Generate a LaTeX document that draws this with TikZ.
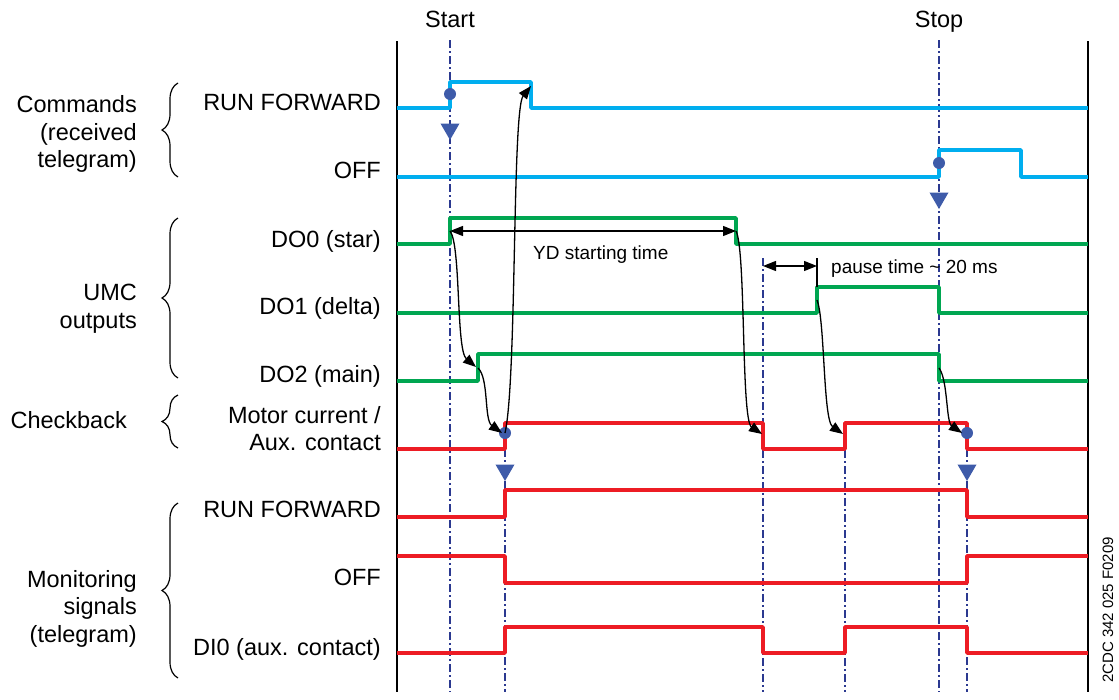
\documentclass[tikz,border=0pt]{standalone}
\usepackage{fontspec}
\setmainfont{Liberation Sans}
\usetikzlibrary{arrows.meta,decorations.pathreplacing,shapes.geometric}
\definecolor{sigblue}{HTML}{00AEEF}
\definecolor{siggreen}{HTML}{00A651}
\definecolor{sigred}{HTML}{ED1C24}
\definecolor{navy}{HTML}{2B3990}
\definecolor{dotblue}{HTML}{3E5BA9}
\begin{document}
\begin{tikzpicture}[x=1pt,y=-1pt,
  sigB/.style={draw=sigblue,line width=3.8pt,line join=round},
  sigG/.style={draw=siggreen,line width=3.8pt,line join=round},
  sigR/.style={draw=sigred,line width=3.8pt,line join=round},
  vline/.style={draw=navy,line width=1.3pt,dash pattern=on 8pt off 3pt on 2pt off 3pt},
  frame/.style={draw=black,line width=1.5pt},
  arr/.style={draw=black,line width=1.3pt,-{Triangle[length=13pt,width=10pt]}},
  darr/.style={draw=black,line width=1.3pt,{Triangle[length=13pt,width=10pt]}-{Triangle[length=13pt,width=10pt]}},
  dotm/.style={circle,fill=dotblue,inner sep=0pt,minimum size=12pt},
  tri/.style={regular polygon,regular polygon sides=3,shape border rotate=180,fill=dotblue,inner sep=0pt,minimum size=22pt},
  brc/.style={draw=black,line width=1.2pt,decorate,decoration={brace,amplitude=16pt}},
  lbl/.style={anchor=base east,inner sep=0pt,font=\fontsize{23.5}{28}\selectfont},
  grp/.style={anchor=base east,inner sep=0pt,font=\fontsize{23.5}{28}\selectfont},
  ann/.style={anchor=base west,inner sep=0pt,font=\fontsize{19}{23}\selectfont}
]
\useasboundingbox (0,0) rectangle (1119,699);

% frame lines
\draw[frame] (397,41) -- (397,692);
\draw[frame] (1088,41) -- (1088,692);

% vertical dash-dot marker lines
\draw[vline] (450,40) -- (450,692);
\draw[vline] (939,40) -- (939,692);
\draw[vline] (505,433) -- (505,692);
\draw[vline] (967,433) -- (967,692);
\draw[vline] (763,258) -- (763,692);
\draw[vline] (845,450) -- (845,692);

% Start / Stop
\node[anchor=base,inner sep=0pt,font=\fontsize{23.5}{28}\selectfont] (start) at (450,27) {Start};
\node[anchor=base,inner sep=0pt,font=\fontsize{23.5}{28}\selectfont] (stop) at (939,27) {Stop};

% commands (blue)
\draw[sigB] (397,108) -- (450,108) -- (450,82) -- (531,82) -- (531,108) -- (1088,108);
\draw[sigB] (397,177) -- (939,177) -- (939,150) -- (1021,150) -- (1021,177) -- (1088,177);

% UMC outputs (green)
\draw[sigG] (397,244) -- (450,244) -- (450,218) -- (736,218) -- (736,244) -- (1088,244);
\draw[sigG] (397,313) -- (817,313) -- (817,287) -- (939,287) -- (939,313) -- (1088,313);
\draw[sigG] (397,381) -- (478,381) -- (478,354) -- (939,354) -- (939,381) -- (1088,381);

% checkback (red)
\draw[sigR] (397,449) -- (505,449) -- (505,423) -- (763,423) -- (763,449) -- (845,449) -- (845,423) -- (967,423) -- (967,449) -- (1088,449);

% monitoring (red)
\draw[sigR] (397,517) -- (505,517) -- (505,490) -- (967,490) -- (967,517) -- (1088,517);
\draw[sigR] (397,556) -- (505,556) -- (505,583) -- (967,583) -- (967,556) -- (1088,556);
\draw[sigR] (397,653) -- (505,653) -- (505,627) -- (763,627) -- (763,653) -- (845,653) -- (845,627) -- (967,627) -- (967,653) -- (1088,653);

% markers
\node[dotm] (d1) at (450,94) {};
\node[dotm] (d2) at (939,163) {};
\node[dotm] (d3) at (505,433) {};
\node[dotm] (d4) at (967,433) {};
\node[tri] (t1) at (450,129) {};
\node[tri] (t2) at (939,198) {};
\node[tri] (t3) at (505,470) {};
\node[tri] (t4) at (967,470) {};

% coordinates for arrows
\coordinate (ydL) at (450,231);
\coordinate (ydR) at (736,231);
\coordinate (psL) at (763,266);
\coordinate (psR) at (817,266);
\coordinate (psTop) at (817,258);
\coordinate (psBot) at (817,287);
\coordinate (do2r) at (476,367);
\coordinate (do2s) at (478,368);
\coordinate (mcr) at (502,433);
\coordinate (rff) at (531,86);
\coordinate (mcf) at (762,434);
\coordinate (do1r) at (817,300);
\coordinate (mcr2) at (843,434);
\coordinate (do2f) at (939,368);
\coordinate (mcf2) at (962,433);

% timing annotations
\draw[darr] (ydL) -- (ydR);
\node[ann] (ydt) at (533,259) {YD starting time};
\draw[darr] (psL) -- (psR);
\draw[black,line width=1.3pt] (psTop) -- (psBot);
\node[ann] (pst) at (831,273) {pause time {\char"7E} 20 ms};

% causal curves
\draw[arr] (ydL) .. controls (461,245) and (456,350) .. (do2r);
\draw[arr] (do2s) .. controls (489,378) and (484,420) .. (mcr);
\draw[arr] (d3.center) .. controls (517,380) and (512,110) .. (rff);
\draw[arr] (ydR) .. controls (746,250) and (741,420) .. (mcf);
\draw[arr] (do1r) .. controls (825,320) and (823,420) .. (mcr2);
\draw[arr] (do2f) .. controls (948,380) and (946,422) .. (mcf2);

% signal labels
\node[lbl] (l1) at (381,110) {RUN FORWARD};
\node[lbl] (l2) at (381,178) {OFF};
\node[lbl] (l3) at (381,247) {DO0 (star)};
\node[lbl] (l4) at (381,314) {DO1 (delta)};
\node[lbl] (l5) at (381,382) {DO2 (main)};
\node[lbl] (l6a) at (381,423) {Motor current /};
\node[lbl] (l6b) at (381,450) {Aux. contact};
\node[lbl] (l7) at (381,517) {RUN FORWARD};
\node[lbl] (l8) at (381,585) {OFF};
\node[lbl] (l9) at (381,655) {DI0 (aux. contact)};

% braces
\draw[brc] (178,177) -- (178,83);
\draw[brc] (178,378) -- (178,218);
\draw[brc] (178,448) -- (178,395);
\draw[brc] (178,678) -- (178,503);

% group labels
\node[grp] (g1a) at (137,112) {Commands};
\node[grp] (g1b) at (137,140) {(received};
\node[grp] (g1c) at (137,167) {telegram)};
\node[grp] (g2a) at (137,300) {UMC};
\node[grp] (g2b) at (137,328) {outputs};
\node[grp] (g3) at (127,428) {Checkback};
\node[grp] (g4a) at (137,587) {Monitoring};
\node[grp] (g4b) at (137,614) {signals};
\node[grp] (g4c) at (137,642) {(telegram)};

% drawing number
\node[rotate=90,inner sep=0pt,font=\fontsize{15}{18}\selectfont] (num) at (1108,610) {2CDC 342 025 F0209};
\end{tikzpicture}
\end{document}
